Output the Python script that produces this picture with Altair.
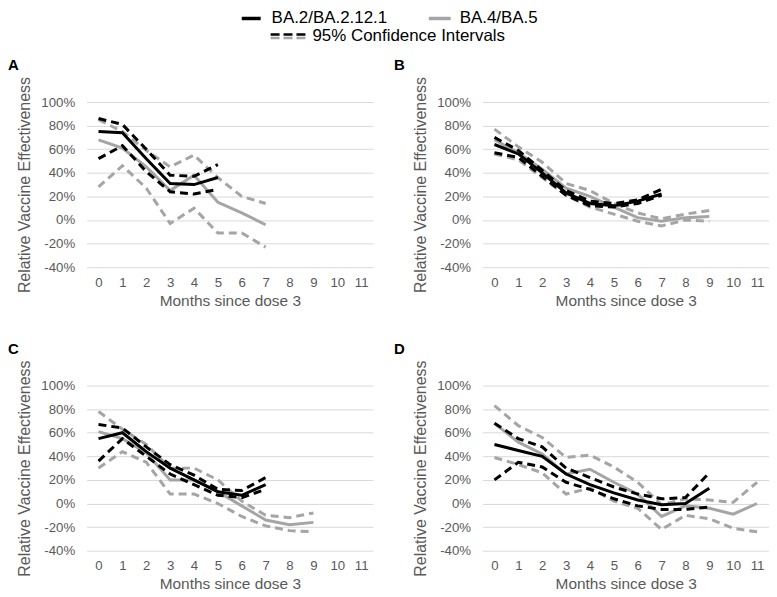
import altair as alt
import pandas as pd

# ---------------- data ----------------
months = list(range(12))
month_ticks = list(range(12))
pct_ticks = [-40, -20, 0, 20, 40, 60, 80, 100]

# Panel A
A_ba2_est = [75, 74, 52, 31, 30, 36]
A_ba2_hi = [86, 81, 60, 38, 37, 47]
A_ba2_lo = [52, 63, 41, 24, 22, 26]
A_ba4_est = [68, 61, 45, 25, 38, 15, 6, -4]
A_ba4_hi = [85, 75, 59, 45, 55, 36, 20, 14]
A_ba4_lo = [28, 46, 27, -3, 10, -11, -11, -23]

# Panel B
B_ba2_est = [64, 56, 40, 23, 14, 12, 16, 22]
B_ba2_hi = [70, 59, 42, 25, 16, 14, 17, 26]
B_ba2_lo = [57, 53, 37, 21, 12, 11, 14, 21]
B_ba4_est = [68, 57, 43, 27, 20, 11, 2, -1, 2, 3]
B_ba4_hi = [77, 62, 49, 31, 25, 14, 6, 1, 5, 8]
B_ba4_lo = [56, 51, 36, 21, 11, 5, -1, -5, 0, -1]

# Panel C
C_ba2_est = [55, 60, 44, 30, 20, 10, 7, 16]
C_ba2_hi = [67, 64, 48, 33, 24, 12, 11, 22]
C_ba2_lo = [36, 55, 40, 25, 16, 7, 5, 12]
C_ba4_est = [61, 55, 43, 20, 20, 10, -2, -14, -18, -16]
C_ba4_hi = [78, 63, 50, 30, 30, 20, 2, -10, -12, -8]
C_ba4_lo = [30, 44, 35, 8, 8, 0, -11, -19, -23, -24]

# Panel D
D_ba2_est = [50, 45, 40, 25, 16, 9, 3, -1, 0, 13]
D_ba2_hi = [68, 55, 48, 30, 22, 14, 8, 4, 5, 26]
D_ba2_lo = [20, 35, 31, 18, 12, 4, -2, -5, -5, -3]
D_ba4_est = [68, 52, 42, 25, 29, 18, 8, -11, -2, -4, -9, 0]
D_ba4_hi = [83, 66, 56, 39, 41, 31, 18, -1, 4, 3, 1, 18]
D_ba4_lo = [39, 33, 26, 8, 13, 2, -4, -22, -10, -13, -21, -24]

panels = {
    "A": {"BA.2/BA.2.12.1": (A_ba2_est, A_ba2_hi, A_ba2_lo), "BA.4/BA.5": (A_ba4_est, A_ba4_hi, A_ba4_lo)},
    "B": {"BA.2/BA.2.12.1": (B_ba2_est, B_ba2_hi, B_ba2_lo), "BA.4/BA.5": (B_ba4_est, B_ba4_hi, B_ba4_lo)},
    "C": {"BA.2/BA.2.12.1": (C_ba2_est, C_ba2_hi, C_ba2_lo), "BA.4/BA.5": (C_ba4_est, C_ba4_hi, C_ba4_lo)},
    "D": {"BA.2/BA.2.12.1": (D_ba2_est, D_ba2_hi, D_ba2_lo), "BA.4/BA.5": (D_ba4_est, D_ba4_hi, D_ba4_lo)},
}

rows = []
for p, variants in panels.items():
    for v, (est, hi, lo) in variants.items():
        for kind, vals in (("est", est), ("hi", hi), ("lo", lo)):
            for m, val in zip(months, vals):
                rows.append({"panel": p, "variant": v, "kind": kind, "month": m, "value": val})
df = pd.DataFrame(rows)

FONT = "Liberation Sans"
BLACK = "#000000"
GRAY = "#a5a5a5"
AXIS_GRAY = "#595959"
W, H = 288, 166

x_enc = alt.X("month:Q",
              scale=alt.Scale(domain=[-0.5, 11.5], nice=False, zero=False),
              axis=alt.Axis(values=month_ticks, format="d", grid=False, domain=False, ticks=False,
                            tickSize=0, labelPadding=8, labelFontSize=13.3, labelColor=AXIS_GRAY,
                            labelFont=FONT, title="Months since dose 3", titleFont=FONT,
                            titleFontSize=15.5, titleFontWeight="normal", titleColor=AXIS_GRAY,
                            titlePadding=5))
y_enc = alt.Y("value:Q",
              scale=alt.Scale(domain=[-40, 100], nice=False, zero=False),
              axis=alt.Axis(values=pct_ticks, labelExpr="datum.value + '%'", grid=True,
                            gridColor="#d9d9d9", gridWidth=1, domain=False, ticks=False, tickSize=0,
                            labelPadding=12, labelFontSize=13.3, labelColor=AXIS_GRAY, labelFont=FONT,
                            title="Relative Vaccine Effectiveness", titleFont=FONT, titleFontSize=16,
                            titleFontWeight="normal", titleColor=AXIS_GRAY, titlePadding=8))

one = pd.DataFrame({"k": [0]})


def panel(letter, letter_x, with_legend=False):
    sub = df[df["panel"] == letter]
    layers = []
    for v, color in (("BA.4/BA.5", GRAY), ("BA.2/BA.2.12.1", BLACK)):
        ci = sub[(sub["variant"] == v) & (sub["kind"] != "est")]
        est = sub[(sub["variant"] == v) & (sub["kind"] == "est")]
        layers.append(alt.Chart(ci).mark_line(color=color, strokeWidth=3, strokeDash=[8, 5])
                      .encode(x=x_enc, y=y_enc, detail="kind:N"))
        layers.append(alt.Chart(est).mark_line(color=color, strokeWidth=3)
                      .encode(x=x_enc, y=y_enc))
    layers.append(alt.Chart(one).mark_text(text=letter, font=FONT, fontSize=15, fontWeight="bold",
                                           align="left", baseline="middle", color=BLACK)
                  .encode(x=alt.value(letter_x), y=alt.value(-37)))
    if with_legend:
        r1, r2 = -84, -66
        fs = 17
        layers += [
            alt.Chart(one).mark_rule(color=BLACK, strokeWidth=3.5)
            .encode(x=alt.value(156), x2=alt.value(175), y=alt.value(r1)),
            alt.Chart(one).mark_text(text="BA.2/BA.2.12.1", font=FONT, fontSize=fs, align="left",
                                     baseline="middle", color=BLACK)
            .encode(x=alt.value(186), y=alt.value(r1)),
            alt.Chart(one).mark_rule(color=GRAY, strokeWidth=3.5)
            .encode(x=alt.value(344), x2=alt.value(366), y=alt.value(r1)),
            alt.Chart(one).mark_text(text="BA.4/BA.5", font=FONT, fontSize=fs, align="left",
                                     baseline="middle", color=BLACK)
            .encode(x=alt.value(375), y=alt.value(r1)),
            alt.Chart(one).mark_rule(color=BLACK, strokeWidth=2.5, strokeDash=[9, 4])
            .encode(x=alt.value(185), x2=alt.value(220), y=alt.value(r2 - 2)),
            alt.Chart(one).mark_rule(color=GRAY, strokeWidth=2.5, strokeDash=[9, 4])
            .encode(x=alt.value(185), x2=alt.value(220), y=alt.value(r2 + 1.5)),
            alt.Chart(one).mark_text(text="95% Confidence Intervals", font=FONT, fontSize=fs,
                                     align="left", baseline="middle", color=BLACK)
            .encode(x=alt.value(227), y=alt.value(r2)),
        ]
    return alt.layer(*layers).properties(width=W, height=H)


chart = alt.concat(
    panel("A", -79, with_legend=True),
    panel("B", -89),
    panel("C", -79),
    panel("D", -89),
    columns=2,
).properties(
    spacing=alt.RowColnumber(row=119, column=110),
    bounds="flush",
    padding=0,
).configure_view(stroke=None)

chart.save("out.html", embed_options={"renderer": "svg", "actions": False})
